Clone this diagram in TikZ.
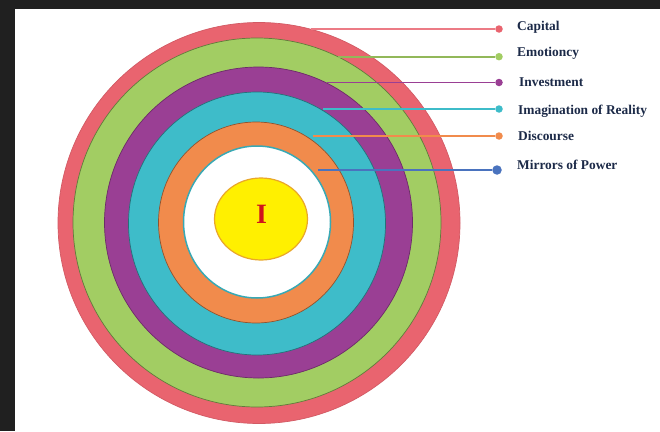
\documentclass[tikz,border=0pt]{standalone}
\usepackage{fontspec}
\setmainfont{Liberation Serif}
\usetikzlibrary{shapes.geometric}
\definecolor{cRed}{HTML}{E9646F}
\definecolor{cGreen}{HTML}{A2CD63}
\definecolor{cPurple}{HTML}{9A3F94}
\definecolor{cCyan}{HTML}{3EBCC9}
\definecolor{cOrange}{HTML}{F18B4C}
\definecolor{cBlue}{HTML}{4A73BE}
\definecolor{cYellow}{HTML}{FFF000}
\definecolor{cYellowBorder}{HTML}{E9A72A}
\definecolor{cText}{HTML}{1C2A48}
\definecolor{cFrame}{HTML}{202020}
\definecolor{cI}{HTML}{D0141C}
\begin{document}
\begin{tikzpicture}[x=1pt,y=-1pt,
  ring/.style={ellipse, inner sep=0pt, line width=0.7pt},
  leader/.style={line width=1.8pt},
  dotmark/.style={circle, inner sep=0pt, minimum size=7.5pt},
  lbl/.style={anchor=base west, font=\bfseries\fontsize{13.4}{15}\selectfont, text=cText, inner sep=0pt}]
\useasboundingbox (0,0) rectangle (660,431);
\fill[white] (0,0) rectangle (660,431);
\fill[cFrame] (0,0) rectangle (660,9);
\fill[cFrame] (0,0) rectangle (15,431);
% rings
\node[ring, fill=cRed, draw=cRed!90!black, minimum width=402pt, minimum height=401pt] (red) at (259,223) {};
\node[ring, fill=cGreen, draw=cGreen!60!black, minimum width=368pt, minimum height=369pt] (green) at (257,222.5) {};
\node[ring, fill=cPurple, draw=cPurple!70!black, minimum width=308pt, minimum height=311pt] (purple) at (258.5,222.5) {};
\node[ring, fill=cCyan, draw=cCyan!60!black, minimum width=257pt, minimum height=263pt] (cyan) at (257,223.5) {};
\node[ring, fill=cOrange, draw=cOrange!60!black, minimum width=195pt, minimum height=201pt] (orange) at (256,222.5) {};
\node[ring, fill=white, draw=cCyan!90!black, line width=1.5pt, minimum width=147pt, minimum height=152pt] (core) at (257,222) {};
\node[ring, fill=cYellow, draw=cYellowBorder, line width=1.2pt, minimum width=93pt, minimum height=82pt] (self) at (261,219) {};
\node[font=\bfseries\fontsize{28}{30}\selectfont, text=cI, inner sep=0pt] (ilabel) at (261.5,214) {I};
% leader start points
\coordinate (s1) at (311,29);
\coordinate (s2) at (338,56.7);
\coordinate (s3) at (327,82.5);
\coordinate (s4) at (323,109);
\coordinate (s5) at (313,136);
\coordinate (s6) at (318,170);
% dots
\node[dotmark, fill=cRed] (d1) at (499,29) {};
\node[dotmark, fill=cGreen] (d2) at (499,56.7) {};
\node[dotmark, fill=cPurple] (d3) at (499,82.5) {};
\node[dotmark, fill=cCyan] (d4) at (499,109) {};
\node[dotmark, fill=cOrange] (d5) at (499,136) {};
\node[dotmark, fill=cBlue, minimum size=9.5pt] (d6) at (497,170) {};
% leaders
\draw[leader, draw=cRed!85!white] (s1) -- (d1);
\draw[leader, draw=cGreen!90!black] (s2) -- (d2);
\draw[leader, draw=cPurple] (s3) -- (d3);
\draw[leader, draw=cCyan] (s4) -- (d4);
\draw[leader, draw=cOrange] (s5) -- (d5);
\draw[leader, draw=cBlue] (s6) -- (d6);
% labels
\node[lbl] (l1) at (517,30.7) {Capital};
\node[lbl] (l2) at (517,56.7) {Emotioncy};
\node[lbl] (l3) at (519,86) {Investment};
\node[lbl] (l4) at (518,114) {Imagination of Reality};
\node[lbl] (l5) at (518,140) {Discourse};
\node[lbl] (l6) at (517,169.3) {Mirrors of Power};
\end{tikzpicture}
\end{document}
